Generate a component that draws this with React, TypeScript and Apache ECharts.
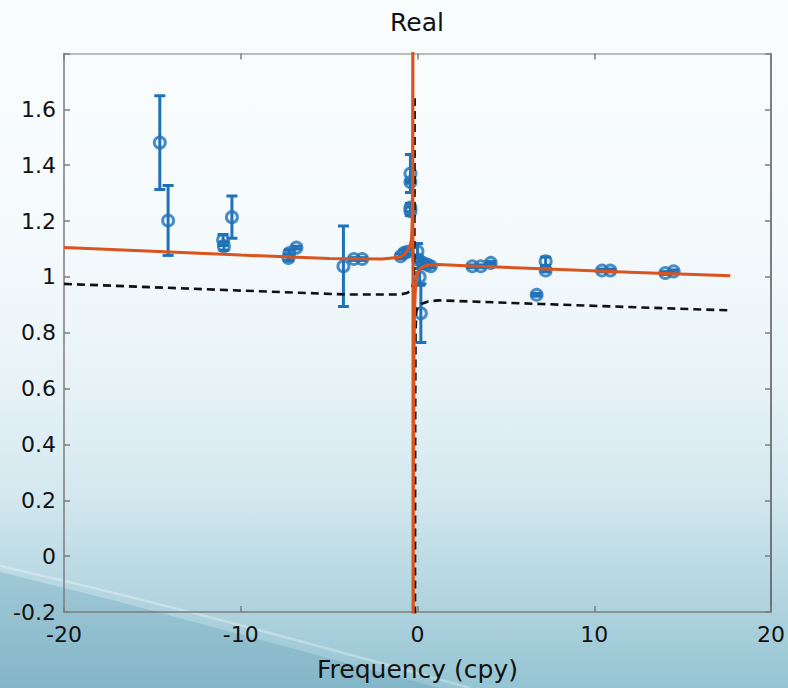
import React, { useEffect, useRef } from "react";
import * as echarts from "echarts";

// Model curve (orange)
const orangeFreq = [-20, -15, -10, -5, -2, -1, -0.75, -0.52, -0.4, -0.34, -0.3, -0.28, -0.27, -0.26, -0.25, -0.23, -0.2, -0.17, -0.13, -0.1, -0.06, -0.03, 0, 0.1, 0.19, 0.35, 0.6, 1.2, 3, 7, 12, 17.7];
const orangeVal = [1.105, 1.092, 1.078, 1.066, 1.064, 1.07, 1.08, 1.098, 1.118, 1.134, 1.2, 1.35, 1.7, 2.5, -1.0, 0.3, 0.7, 0.87, 0.94, 0.975, 0.995, 1.005, 1.014, 1.025, 1.032, 1.038, 1.042, 1.044, 1.039, 1.029, 1.017, 1.004];

// Second curve (black dashed); null marks the break at the pole
const dashFreq = [-20, -15, -10, -4, -1, -0.6, -0.4, -0.3, -0.22, -0.19, -0.175, -0.16, -0.158, -0.155, -0.13, -0.11, -0.08, -0.04, 0, 0.2, 0.6, 1.2, 7, 12, 17.7];
const dashVal = [0.975, 0.963, 0.951, 0.937, 0.937, 0.942, 0.95, 0.962, 0.985, 1.04, 1.12, 1.64, null, -1.0, 0.5, 0.8, 0.87, 0.885, 0.89, 0.903, 0.912, 0.916, 0.903, 0.892, 0.88];

// Measured points with error bars (blue)
const ptFreq = [-14.58, -14.11, -11.0, -10.95, -10.5, -7.3, -7.25, -6.85, -4.19, -3.6, -3.13, -0.95, -0.75, -0.55, -0.4, -0.4, -0.4, -0.4, 0.0, 0.05, 0.12, 0.19, 0.3, 0.55, 0.75, 3.1, 3.58, 4.14, 6.74, 7.25, 7.25, 10.44, 10.91, 14.02, 14.49];
const ptVal = [1.481, 1.202, 1.132, 1.11, 1.214, 1.068, 1.085, 1.105, 1.038, 1.064, 1.064, 1.074, 1.086, 1.09, 1.37, 1.34, 1.248, 1.235, 1.092, 1.062, 1.0, 0.87, 1.05, 1.044, 1.038, 1.038, 1.038, 1.05, 0.936, 1.056, 1.023, 1.023, 1.023, 1.014, 1.02];
const ptErr = [0.168, 0.125, 0.02, 0.015, 0.076, 0.01, 0.012, 0.005, 0.144, 0.005, 0.005, 0.008, 0.01, 0.01, 0.068, 0.005, 0.015, 0.015, 0.028, 0.01, 0.03, 0.105, 0.01, 0.005, 0.005, 0.005, 0.005, 0.005, 0.005, 0.015, 0.005, 0.005, 0.005, 0.005, 0.005];

const xTicks = { min: -20, max: 20, interval: 10 };
const yTicks = { min: -0.2, max: 1.8, interval: 0.2 };

const BLUE = "#1f72b8";
const ORANGE = "#d9541e";
const AXIS = "#7c7c7c";
const FONT = "DejaVu Sans, Liberation Sans, Arial, sans-serif";

export default function App() {
  const ref = useRef<HTMLDivElement>(null);
  useEffect(() => {
    document.body.style.margin = "0";
    if (!ref.current) return;
    const chart = echarts.init(ref.current, null, { renderer: "svg" });
    const pts = ptFreq.map((f, i) => [f, ptVal[i], ptErr[i]]);
    const axisCommon = {
      axisLine: { show: true, onZero: false, lineStyle: { color: AXIS, width: 1.5 } },
      axisTick: { show: true, inside: true, length: 6, lineStyle: { color: AXIS, width: 1.5 } },
      splitLine: { show: false },
    };
    chart.setOption({
      animation: false,
      backgroundColor: "transparent",
      graphic: [
        {
          type: "polygon",
          z: -11,
          silent: true,
          shape: { points: [[0, 572], [120, 602], [250, 637], [380, 672], [440, 688], [0, 688]] },
          style: { fill: "rgba(60,130,158,0.2)" },
        },
        {
          type: "bezierCurve",
          z: -10,
          silent: true,
          shape: { x1: 0, y1: 566, cpx1: 150, cpy1: 600, cpx2: 300, cpy2: 640, x2: 470, y2: 688 },
          style: { stroke: "rgba(255,255,255,0.3)", lineWidth: 2.5, fill: null },
        },
        {
          type: "text",
          x: 417,
          y: 22,
          style: {
            text: "Real",
            fontFamily: FONT,
            fontSize: 25,
            fill: "#111",
            textAlign: "center",
            textVerticalAlign: "middle",
          },
        },
      ],
      grid: { left: 64, right: 15, top: 53.5, bottom: 76, containLabel: false },
      xAxis: [
        {
          type: "value",
          position: "bottom",
          ...xTicks,
          ...axisCommon,
          name: "Frequency (cpy)",
          nameLocation: "middle",
          nameGap: 45,
          nameTextStyle: { fontFamily: FONT, fontSize: 25, color: "#111" },
          axisLabel: { fontFamily: FONT, fontSize: 22, color: "#111", margin: 11 },
        },
        {
          type: "value",
          position: "top",
          ...xTicks,
          ...axisCommon,
          axisLine: { show: true, onZero: false, lineStyle: { color: "#a8a8a8", width: 1.5 } },
          axisLabel: { show: false },
        },
      ],
      yAxis: [
        {
          type: "value",
          position: "left",
          ...yTicks,
          ...axisCommon,
          axisLabel: {
            fontFamily: FONT,
            fontSize: 22,
            color: "#111",
            margin: 8,
            formatter: (v: number) => (v > 1.7 ? "" : String(Math.round(v * 10) / 10)),
          },
        },
        {
          type: "value",
          position: "right",
          ...yTicks,
          ...axisCommon,
          axisLine: { show: true, onZero: false, lineStyle: { color: "#555", width: 1.5 } },
          axisLabel: { show: false },
        },
      ],
      series: [
        {
          type: "custom",
          z: 2,
          clip: true,
          data: pts,
          encode: { x: 0, y: 1 },
          renderItem: (params: any, api: any) => {
            const x = api.value(0);
            const y = api.value(1);
            const e = api.value(2);
            const top = api.coord([x, y + e]);
            const bot = api.coord([x, y - e]);
            const c = 5.5;
            const st = { stroke: BLUE, lineWidth: 3 };
            return {
              type: "group",
              children: [
                { type: "line", shape: { x1: top[0], y1: top[1], x2: bot[0], y2: bot[1] }, style: st },
                { type: "line", shape: { x1: top[0] - c, y1: top[1], x2: top[0] + c, y2: top[1] }, style: st },
                { type: "line", shape: { x1: bot[0] - c, y1: bot[1], x2: bot[0] + c, y2: bot[1] }, style: st },
              ],
            };
          },
        },
        {
          type: "scatter",
          z: 3,
          data: pts.map((p) => [p[0], p[1]]),
          symbol: "circle",
          symbolSize: 11,
          itemStyle: { color: "rgba(0,0,0,0)", borderColor: BLUE, borderWidth: 3 },
        },
        {
          type: "line",
          z: 4,
          clip: true,
          connectNulls: false,
          data: dashFreq.map((f, i) => [f, dashVal[i] === null ? "-" : dashVal[i]]),
          showSymbol: false,
          symbol: "none",
          lineStyle: { color: "#111", width: 2.6, type: [8, 5] },
        },
        {
          type: "line",
          z: 5,
          clip: true,
          data: orangeFreq.map((f, i) => [f, orangeVal[i]]),
          showSymbol: false,
          symbol: "none",
          lineStyle: { color: ORANGE, width: 3 },
        },
      ],
    });
    return () => chart.dispose();
  }, []);
  return (
    <div
      ref={ref}
      style={{
        width: 788,
        height: 688,
        background:
          "linear-gradient(to bottom, #f9fcfd 0%, #f5fafc 35%, #e8f3f7 55%, #d3e8ef 72%, #b4d6e1 86%, #95c4d2 100%)",
      }}
    />
  );
}
